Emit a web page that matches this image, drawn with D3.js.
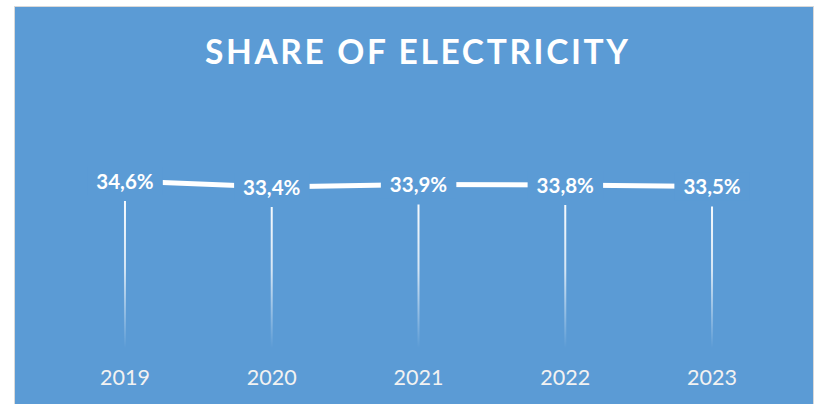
<!DOCTYPE html>
<html>
<head>
<meta charset="utf-8">
<script src="https://cdn.jsdelivr.net/npm/d3@7"></script>
<style>
  html, body { margin: 0; padding: 0; background: #ffffff; }
  svg { display: block; }
</style>
</head>
<body>
<svg id="chart" width="820" height="404"></svg>
<script>
const years = ["2019", "2020", "2021", "2022", "2023"];
const shares = [34.6, 33.4, 33.9, 33.8, 33.5];
const titleText = "SHARE OF ELECTRICITY";

const W = 820, H = 404;
const svg = d3.select("#chart");
const blue = "#5B9BD5";

// chart area background with light border
svg.append("rect")
  .attr("x", 14.5).attr("y", 6.5)
  .attr("width", 799).attr("height", 410)
  .attr("fill", blue)
  .attr("stroke", "#d9d9d9").attr("stroke-width", 1);

// title
svg.append("text")
  .attr("x", 416.5).attr("y", 64)
  .attr("text-anchor", "middle")
  .attr("font-family", "Lato, 'Open Sans', sans-serif")
  .attr("font-weight", "bold")
  .attr("font-size", 33.5)
  .attr("fill", "#ffffff")
  .attr("textLength", 423)
  .attr("lengthAdjust", "spacing")
  .text(titleText);

const x = d3.scaleBand().domain(years).range([51.6, 785.4]);
const y = d3.scaleLinear().domain([0, 40]).range([354, 154]);

const defs = svg.append("defs");
const grad = defs.append("linearGradient")
  .attr("id", "dropGrad")
  .attr("x1", 0).attr("y1", 0).attr("x2", 0).attr("y2", 1);
grad.append("stop").attr("offset", "0%").attr("stop-color", "#ffffff").attr("stop-opacity", 0.95);
grad.append("stop").attr("offset", "45%").attr("stop-color", "#ffffff").attr("stop-opacity", 0.75);
grad.append("stop").attr("offset", "100%").attr("stop-color", "#ffffff").attr("stop-opacity", 0);

const cx = d => x(d) + x.bandwidth() / 2;

// drop lines
svg.append("g").selectAll("rect")
  .data(years)
  .join("rect")
  .attr("x", (d) => cx(d) - 1)
  .attr("y", (d, i) => y(shares[i]) + 20)
  .attr("width", 2)
  .attr("height", (d, i) => y(0) - 6 - (y(shares[i]) + 20))
  .attr("fill", "url(#dropGrad)");

// line
const line = d3.line()
  .x((d, i) => cx(years[i]))
  .y(d => y(d));
svg.append("path")
  .datum(shares)
  .attr("d", line)
  .attr("fill", "none")
  .attr("stroke", "#ffffff")
  .attr("stroke-width", 5);

// data labels with background boxes
const lg = svg.append("g");
years.forEach((yr, i) => {
  const g = lg.append("g");
  const t = g.append("text")
    .attr("x", cx(yr))
    .attr("y", y(shares[i]) + 7.5)
    .attr("text-anchor", "middle")
    .attr("font-family", "Lato, 'Open Sans', sans-serif")
    .attr("font-weight", "bold")
    .attr("font-size", 20.5)
    .attr("fill", "#ffffff")
    .text(shares[i].toFixed(1).replace(".", ",") + "%");
  const bb = t.node().getBBox();
  g.insert("rect", "text")
    .attr("x", bb.x - 9)
    .attr("y", y(shares[i]) - 14)
    .attr("width", bb.width + 18)
    .attr("height", 28)
    .attr("fill", blue);
});

// x-axis labels
svg.append("g").selectAll("text")
  .data(years)
  .join("text")
  .attr("x", d => cx(d))
  .attr("y", 385)
  .attr("text-anchor", "middle")
  .attr("font-family", "Lato, 'Open Sans', sans-serif")
  .attr("font-size", 21.5)
  .attr("fill", "#f2f2f2")
  .text(d => d);
</script>
</body>
</html>
